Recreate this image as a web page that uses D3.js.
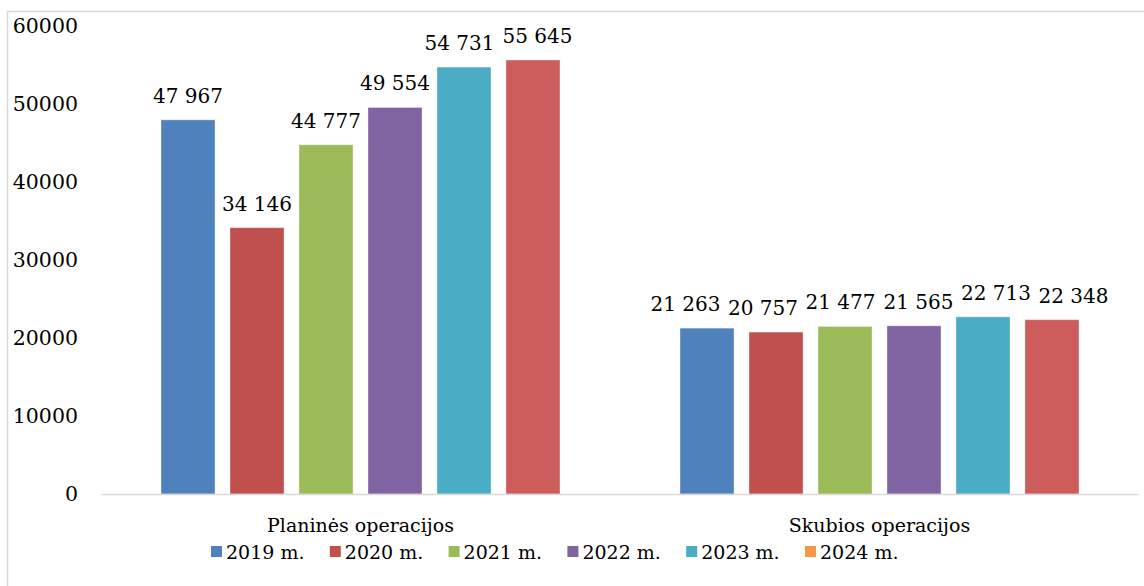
<!DOCTYPE html>
<html><head><meta charset="utf-8">
<script src="https://cdn.jsdelivr.net/npm/d3@7"></script>
<style>html,body{margin:0;padding:0;background:#fff;}svg{display:block;}</style>
</head><body>
<svg id="chart" width="1144" height="586"></svg>
<script>
const categories = ["Planinės operacijos", "Skubios operacijos"];
const seriesNames = ["2019 m.", "2020 m.", "2021 m.", "2022 m.", "2023 m.", "2024 m."];
const values2019 = [47967, 21263];
const values2020 = [34146, 20757];
const values2021 = [44777, 21477];
const values2022 = [49554, 21565];
const values2023 = [54731, 22713];
const values2024 = [55645, 22348];
const yTicks = [0, 10000, 20000, 30000, 40000, 50000, 60000];
const barColors = ["#4F81BD", "#C0504D", "#9BBB59", "#8064A2", "#4BACC6", "#CD5C5C"];
const legendColors = ["#4F81BD", "#C0504D", "#9BBB59", "#8064A2", "#4BACC6", "#F79646"];

(function () {
const seriesValues = [values2019, values2020, values2021, values2022, values2023, values2024];
const FONT = "DejaVu Serif";
const FS = 19, NFS = 20;
const svg = d3.select("#chart");
svg.append("rect").attr("x", 7.5).attr("y", 11.5).attr("width", 1150).attr("height", 600)
  .attr("fill", "none").attr("stroke", "#D9D9D9").attr("stroke-width", 1.5);

const pLeft = 101, pRight = 1139, pTop = 26, pBottom = 494;
const x0 = d3.scaleBand().domain(categories).range([pLeft, pRight]).paddingInner(0).paddingOuter(0);
const x1 = d3.scaleBand().domain(seriesNames).range([0, x0.bandwidth()]).paddingInner(0.217).paddingOuter(0.87);
const y = d3.scaleLinear().domain([0, 60000]).range([pBottom, pTop]);

svg.append("g").selectAll("text").data(yTicks).join("text")
  .attr("x", 78).attr("y", d => y(d)).attr("dy", "0.35em")
  .attr("text-anchor", "end").attr("font-family", FONT).attr("font-size", 20.5).attr("fill", "#000")
  .text(d => d);

const fmt = v => d3.format(",")(v).replace(/,/g, " ");
const labels = [];
categories.forEach((c, ci) => {
  seriesNames.forEach((s, si) => {
    const v = seriesValues[si][ci];
    const bx = x0(c) + x1(s);
    svg.append("rect").attr("x", bx).attr("y", y(v)).attr("width", x1.bandwidth())
      .attr("height", y(0) - y(v)).attr("fill", barColors[si])
      .attr("stroke", "rgba(255,255,255,0.35)").attr("stroke-width", 1);
    labels.push({ci, si, cx: bx + x1.bandwidth() / 2, by: y(v) - 17, text: fmt(v)});
  });
});

svg.append("line").attr("x1", pLeft).attr("x2", pRight).attr("y1", pBottom + 0.5).attr("y2", pBottom + 0.5)
  .attr("stroke", "#D9D9D9").attr("stroke-width", 1.5);

const lg = svg.append("g");
const nodes = labels.map(l => lg.append("text").attr("x", l.cx).attr("y", l.by)
  .attr("text-anchor", "middle").attr("font-family", FONT).attr("font-size", NFS).attr("fill", "#000").text(l.text));
labels.forEach((l, i) => { const b = nodes[i].node().getBBox(); l.w = b.width; l.top = b.y; l.h = b.height; });

// pairwise relaxation: push colliding neighbouring labels apart horizontally
const GAP = 8;
for (let iter = 0; iter < 60; iter++) {
  let moved = false;
  for (let i = 1; i < labels.length; i++) {
    const a = labels[i - 1], b = labels[i];
    if (a.ci !== b.ci) continue;
    const vo = a.top + a.h > b.top && b.top + b.h > a.top;
    const need = (a.w + b.w) / 2 + GAP - (b.cx - a.cx);
    if (vo && need > 0.5) { a.cx -= need / 2; b.cx += need / 2; moved = true; }
  }
  if (!moved) break;
}
labels.forEach((l, i) => nodes[i].attr("x", l.cx));

svg.append("g").selectAll("text").data(categories).join("text")
  .attr("x", d => x0(d) + x0.bandwidth() / 2).attr("y", 532)
  .attr("text-anchor", "middle").attr("font-family", FONT).attr("font-size", FS).attr("fill", "#000")
  .text(d => d);

const lx = d3.scalePoint().domain(seriesNames).range([211, 805]);
const leg = svg.append("g").selectAll("g").data(seriesNames).join("g")
  .attr("transform", d => `translate(${lx(d)},552)`);
leg.append("rect").attr("x", 0).attr("y", -6).attr("width", 11).attr("height", 11)
  .attr("fill", (d, i) => legendColors[i]);
leg.append("text").attr("x", 15).attr("y", 0).attr("dy", "0.35em")
  .attr("font-family", FONT).attr("font-size", FS).attr("fill", "#000").text(d => d);
})();
</script>
</body></html>
